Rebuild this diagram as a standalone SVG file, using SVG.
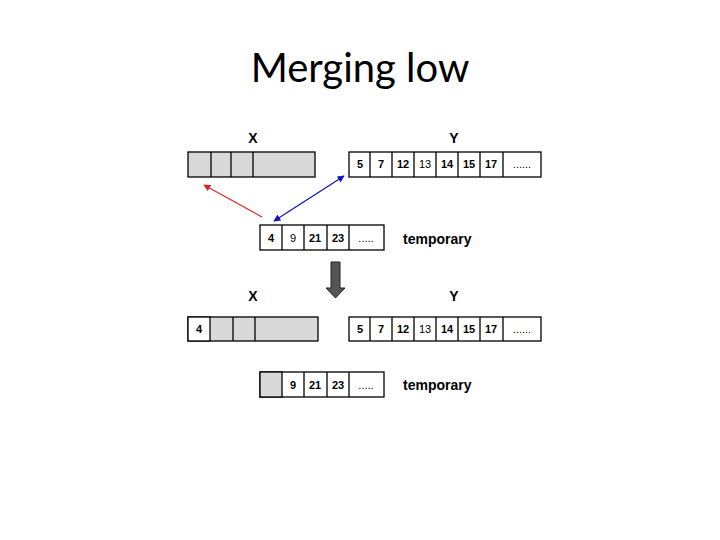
<svg xmlns="http://www.w3.org/2000/svg" width="720" height="540" viewBox="0 0 720 540">
<defs>
<style>
.title{font-family:Lato,"Open Sans","Liberation Sans",sans-serif;font-size:40px;fill:#000}
.lbl{font-family:"Liberation Sans",Arial,sans-serif;font-size:14px;font-weight:bold;fill:#000}
.num{font-family:"Liberation Sans",Arial,sans-serif;font-size:11px;font-weight:bold;fill:#000;text-anchor:middle}
.n{font-weight:normal}
.cell{fill:#fff;stroke:#000;stroke-width:1.3}
.grey{fill:#d9d9d9;stroke:#000;stroke-width:1.3}
.div{stroke:#000;stroke-width:1.3}
</style>
<marker id="redHead" viewBox="0 0 10 10" refX="9" refY="5" markerWidth="7" markerHeight="7" orient="auto" markerUnits="userSpaceOnUse"><path d="M0,0 L10,5 L0,10 z" fill="#e02020"/></marker>
<marker id="blueHead" viewBox="0 0 10 10" refX="9" refY="5" markerWidth="7" markerHeight="7" orient="auto-start-reverse" markerUnits="userSpaceOnUse"><path d="M0,0 L10,5 L0,10 z" fill="#1010c0"/></marker>
</defs>
<rect width="720" height="540" fill="#fff"/>
<text class="title" x="360" y="82" text-anchor="middle">Merging low</text>

<g id="label-x-top"><text class="lbl" x="253" y="143" text-anchor="middle">X</text></g>
<g id="label-y-top"><text class="lbl" x="454" y="143" text-anchor="middle">Y</text></g>

<g id="array-x-top">
<rect class="grey" x="188" y="152" width="127" height="25"/>
<line class="div" x1="211" y1="152" x2="211" y2="177"/>
<line class="div" x1="231" y1="152" x2="231" y2="177"/>
<line class="div" x1="253" y1="152" x2="253" y2="177"/>
</g>

<g id="array-y-top">
<rect class="cell" x="349" y="152" width="192" height="25"/>
<line class="div" x1="370" y1="152" x2="370" y2="177"/>
<line class="div" x1="392" y1="152" x2="392" y2="177"/>
<line class="div" x1="414" y1="152" x2="414" y2="177"/>
<line class="div" x1="436" y1="152" x2="436" y2="177"/>
<line class="div" x1="458" y1="152" x2="458" y2="177"/>
<line class="div" x1="480" y1="152" x2="480" y2="177"/>
<line class="div" x1="503" y1="152" x2="503" y2="177"/>
<text class="num" x="360" y="168">5</text>
<text class="num" x="381" y="168">7</text>
<text class="num" x="403" y="168">12</text>
<text class="num n" x="425" y="168">13</text>
<text class="num" x="447" y="168">14</text>
<text class="num" x="469" y="168">15</text>
<text class="num" x="491" y="168">17</text>
<text class="num n" x="522" y="168">......</text>
</g>

<g id="temp-top">
<rect class="cell" x="260" y="225" width="124" height="25"/>
<line class="div" x1="282" y1="225" x2="282" y2="250"/>
<line class="div" x1="304" y1="225" x2="304" y2="250"/>
<line class="div" x1="327" y1="225" x2="327" y2="250"/>
<line class="div" x1="349" y1="225" x2="349" y2="250"/>
<text class="num" x="271" y="242">4</text>
<text class="num n" x="293" y="242">9</text>
<text class="num" x="315" y="242">21</text>
<text class="num" x="338" y="242">23</text>
<text class="num n" x="366" y="242">.....</text>
</g>
<g id="label-temp-top"><text class="lbl" x="403" y="244">temporary</text></g>

<g id="connectors">
<line x1="262" y1="217" x2="204" y2="185" stroke="#e02020" stroke-width="1.2" marker-end="url(#redHead)"/>
<line x1="274" y1="221" x2="344" y2="176" stroke="#1010c0" stroke-width="1.2" marker-start="url(#blueHead)" marker-end="url(#blueHead)"/>
<path d="M331,262 L340,262 L340,288 L345,288 L335.5,298 L326,288 L331,288 Z" fill="#555" stroke="#222" stroke-width="1"/>
</g>

<g id="label-x-bottom"><text class="lbl" x="253" y="301" text-anchor="middle">X</text></g>
<g id="label-y-bottom"><text class="lbl" x="454" y="301" text-anchor="middle">Y</text></g>

<g id="array-x-bottom">
<rect class="grey" x="188" y="317" width="130" height="24"/>
<rect class="cell" x="188" y="317" width="22" height="24"/>
<line class="div" x1="233" y1="317" x2="233" y2="341"/>
<line class="div" x1="255" y1="317" x2="255" y2="341"/>
<text class="num" x="199" y="333">4</text>
</g>

<g id="array-y-bottom">
<rect class="cell" x="349" y="317" width="192" height="24"/>
<line class="div" x1="370" y1="317" x2="370" y2="341"/>
<line class="div" x1="392" y1="317" x2="392" y2="341"/>
<line class="div" x1="414" y1="317" x2="414" y2="341"/>
<line class="div" x1="436" y1="317" x2="436" y2="341"/>
<line class="div" x1="458" y1="317" x2="458" y2="341"/>
<line class="div" x1="480" y1="317" x2="480" y2="341"/>
<line class="div" x1="503" y1="317" x2="503" y2="341"/>
<text class="num" x="360" y="333">5</text>
<text class="num" x="381" y="333">7</text>
<text class="num" x="403" y="333">12</text>
<text class="num n" x="425" y="333">13</text>
<text class="num" x="447" y="333">14</text>
<text class="num" x="469" y="333">15</text>
<text class="num" x="491" y="333">17</text>
<text class="num n" x="522" y="333" fill="#888">......</text>
</g>

<g id="temp-bottom">
<rect class="cell" x="260" y="372" width="124" height="25"/>
<rect class="grey" x="260" y="372" width="22" height="25"/>
<line class="div" x1="304" y1="372" x2="304" y2="397"/>
<line class="div" x1="327" y1="372" x2="327" y2="397"/>
<line class="div" x1="349" y1="372" x2="349" y2="397"/>
<text class="num" x="293" y="389">9</text>
<text class="num" x="315" y="389">21</text>
<text class="num" x="338" y="389">23</text>
<text class="num n" x="366" y="389">.....</text>
</g>
<g id="label-temp-bottom"><text class="lbl" x="403" y="390">temporary</text></g>
</svg>
